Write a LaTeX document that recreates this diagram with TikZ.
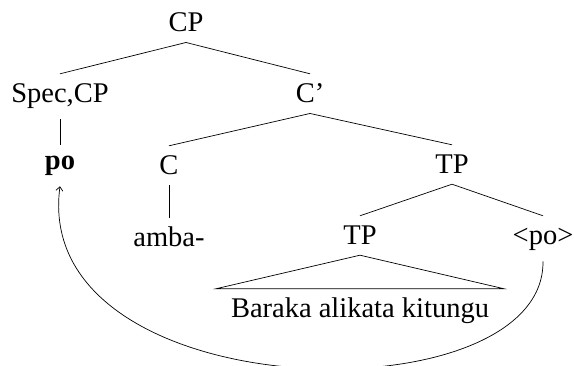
\documentclass[tikz,border=0pt]{standalone}
\usepackage{fontspec}
\setmainfont{Liberation Serif}
\usetikzlibrary{arrows.meta}
\begin{document}
\begin{tikzpicture}[x=1pt,y=-1pt,
  lbl/.style={anchor=base,inner xsep=2pt,inner ysep=10pt,text height=19pt,font=\fontsize{28.5}{34}\selectfont},
  edge/.style={line width=0.7pt},
  mv/.style={line width=0.7pt,-{Straight Barb[length=4pt,width=7pt]}}]
\useasboundingbox (0,0) rectangle (574,366);
\node[lbl] (cp) at (186,32) {CP};
\node[lbl] (spec) at (60,103) {Spec,CP};
\node[lbl] (cbar) at (310,103) {C’};
\node[lbl,text height=15pt] (po) at (60,170) {\bfseries po};
\node[lbl] (c) at (169,175) {C};
\node[lbl] (tp) at (452,174) {TP};
\node[lbl] (amba) at (169,247) {amba-};
\node[lbl] (tp2) at (360,245) {TP};
\node[lbl] (potr) at (543,245) {<po>};
\node[lbl,inner xsep=15pt] (baraka) at (360,318) {Baraka alikata kitungu};
\draw[edge] (cp.south) -- (spec.north);
\draw[edge] (cp.south) -- (cbar.north);
\draw[edge] (spec.south) -- (po.north);
\draw[edge] (cbar.south) -- (c.north);
\draw[edge] (cbar.south) -- (tp.north);
\draw[edge] (c.south) -- (amba.north);
\draw[edge] (tp.south) -- (tp2.north);
\draw[edge] (tp.south) -- (potr.north);
\draw[edge] (tp2.south) -- (baraka.north west) -- (baraka.north east) -- cycle;
\draw[mv] (potr.south) .. controls (545,420) and (30,410) .. (po.south);
\end{tikzpicture}
\end{document}
